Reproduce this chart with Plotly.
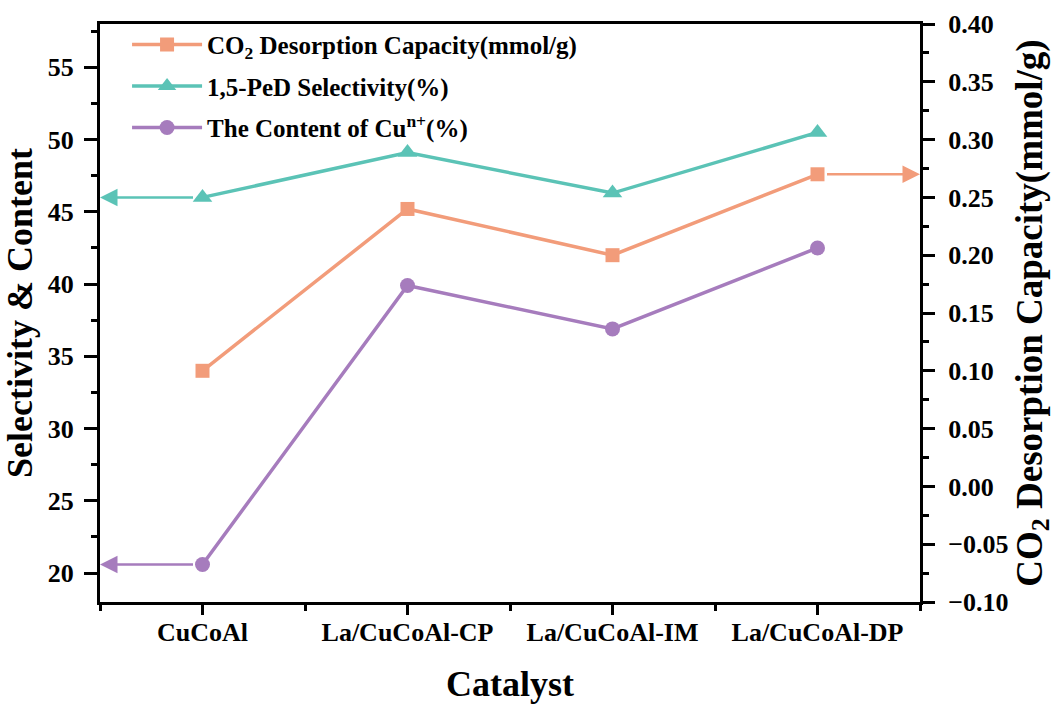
import plotly.graph_objects as go

categories = ["CuCoAl", "La/CuCoAl-CP", "La/CuCoAl-IM", "La/CuCoAl-DP"]
co2_capacity = [0.10, 0.24, 0.20, 0.27]
selectivity = [46.0, 49.1, 46.3, 50.5]
cu_content = [20.6, 39.9, 36.9, 42.5]

c_orange = "#F29C7A"
c_teal = "#5BC3B6"
c_purple = "#A67CBD"

FONT = "Liberation Serif"
xpos = list(range(len(categories)))

fig = go.Figure()
fig.add_trace(go.Scatter(
    x=xpos, y=co2_capacity, yaxis="y2", mode="lines+markers",
    name="CO<sub>2</sub> Desorption Capacity(mmol/g)",
    line=dict(color=c_orange, width=3.5),
    marker=dict(symbol="square", size=14, color=c_orange),
    legendgroup="a"))
fig.add_trace(go.Scatter(
    x=xpos, y=selectivity, mode="lines+markers",
    name="1,5-PeD Selectivity(%)",
    line=dict(color=c_teal, width=3.5),
    marker=dict(symbol="triangle-up", size=17, color=c_teal),
    legendgroup="b"))
fig.add_trace(go.Scatter(
    x=xpos, y=cu_content, mode="lines+markers",
    name="The Content of Cu<sup>n+</sup>(%)",
    line=dict(color=c_purple, width=3.5),
    marker=dict(symbol="circle", size=15, color=c_purple),
    legendgroup="c"))

# axis indicator arrows
arrows = [
    dict(x=-0.5, y=selectivity[0], ax=xpos[0], ay=selectivity[0], xref="x", yref="y", axref="x", ayref="y", arrowcolor=c_teal),
    dict(x=-0.5, y=cu_content[0], ax=xpos[0], ay=cu_content[0], xref="x", yref="y", axref="x", ayref="y", arrowcolor=c_purple),
    dict(x=3.5, y=co2_capacity[-1], ax=xpos[-1], ay=co2_capacity[-1], xref="x", yref="y2", axref="x", ayref="y2", arrowcolor=c_orange),
]
for a in arrows:
    fig.add_annotation(text="", showarrow=True, arrowhead=2, arrowsize=1.4,
                       arrowwidth=2.5, startstandoff=8, **a)

tickfont = dict(family=FONT, size=26, color="black", weight="bold")
titlefont = dict(family=FONT, size=36, color="black", weight="bold")

fig.update_layout(
    width=1056, height=704,
    margin=dict(l=100, r=136, t=24, b=102),
    plot_bgcolor="white", paper_bgcolor="white",
    font=dict(family=FONT, color="black"),
    showlegend=True,
    legend=dict(x=0.033, y=1.004, xanchor="left", yanchor="top",
                font=dict(family=FONT, size=25, color="black", weight="bold"),
                bgcolor="rgba(0,0,0,0)", tracegroupgap=6, itemwidth=70),
    xaxis=dict(
        range=[-0.5, 3.5], tickmode="array", tickvals=xpos, ticktext=categories,
        showline=True, linecolor="black", linewidth=3, mirror=True,
        ticks="outside", ticklen=10, tickwidth=3, tickcolor="black",
        tickfont=tickfont, showgrid=False, zeroline=False, ticklabelstandoff=-5,
        automargin=False,
        minor=dict(tickvals=[-0.5, 0.5, 1.5, 2.5, 3.5], ticks="outside", ticklen=6, tickwidth=3, tickcolor="black"),
        title=dict(text="Catalyst", font=titlefont, standoff=30),
    ),
    yaxis=dict(
        range=[18, 58], tick0=0, dtick=5,
        showline=True, linecolor="black", linewidth=3,
        ticks="outside", ticklen=13, tickwidth=3, tickcolor="black",
        tickfont=tickfont, showgrid=False, zeroline=False, ticklabelstandoff=5,
        automargin=False,
        minor=dict(dtick=2.5, ticks="outside", ticklen=6, tickwidth=3, tickcolor="black"),
        title=dict(text="Selectivity & Content", font=titlefont, standoff=10),
    ),
    yaxis2=dict(
        overlaying="y", side="right", range=[-0.1, 0.4], tick0=0, dtick=0.05,
        tickformat=".2f",
        showline=True, linecolor="black", linewidth=3,
        ticks="outside", ticklen=12, tickwidth=3, tickcolor="black",
        tickfont=tickfont, showgrid=False, zeroline=False, ticklabelstandoff=8,
        automargin=False,
        minor=dict(dtick=0.025, ticks="outside", ticklen=6, tickwidth=3, tickcolor="black"),
        title=dict(text="CO<sub>2</sub> Desorption Capacity(mmol/g)", font=dict(family=FONT, size=37, color="black", weight="bold"), standoff=4),
    ),
)

fig.write_html("out.html")
